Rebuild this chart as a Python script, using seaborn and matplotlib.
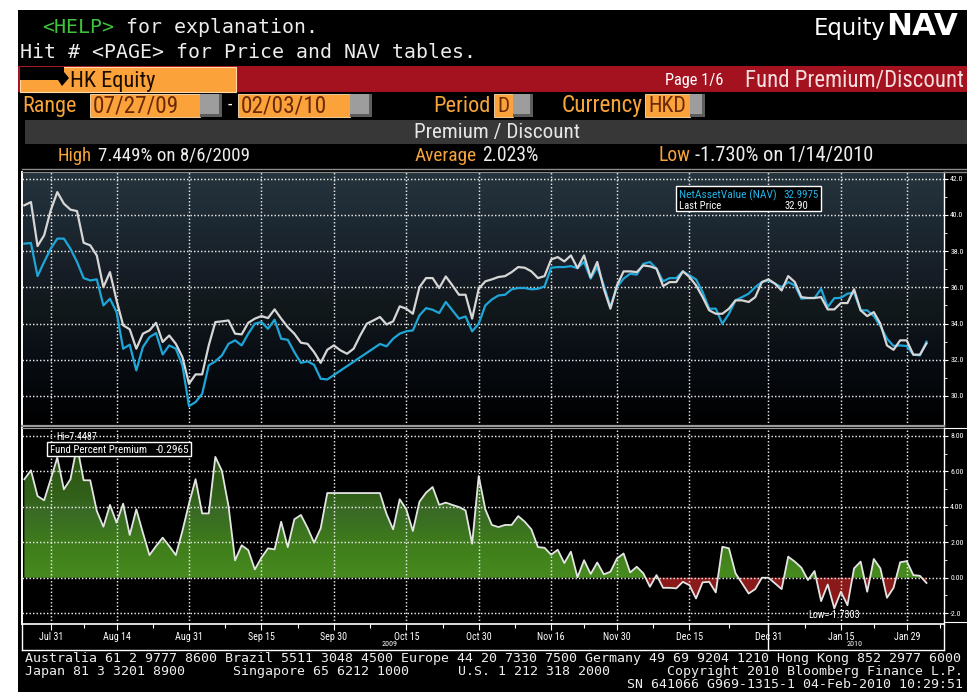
import numpy as np
import pandas as pd
import matplotlib
matplotlib.use("Agg")
import matplotlib.pyplot as plt
import seaborn as sns
from matplotlib.patches import Rectangle, Polygon
from matplotlib.lines import Line2D
from matplotlib.path import Path
from matplotlib.colors import LinearSegmentedColormap
from matplotlib import font_manager

nan = np.nan

# ---------------- data ----------------
start_date = "2009-07-27"
end_date = "2010-02-03"

last_price = [
    40.53, 40.71, 38.28, 38.87, 40.25, 41.26, 40.62, 40.29, 40.21, 38.46,
    38.32, 37.76, 36.01, 36.84, 35.28, 33.90, 33.68, 32.61, 33.44, 33.62,
    34.04, 32.98, 33.34, 32.88, 32.15, 30.67, 31.19, 31.19, 32.79, 34.08,
    34.12, 34.17, 33.44, 33.40, 34.04, 34.27, 34.41, 34.30, 34.78, 34.27,
    33.80, 33.44, 32.94, 32.88, 32.42, 31.83, 32.55, 32.79, 32.52, 32.33,
    32.61, 33.34, 33.99, 34.17, 34.36, 33.95, 34.12, 34.95, 34.82, 34.54,
    36.01, 36.51, 36.51, 35.96, 36.60, 36.11, 35.59, 35.59, 34.27, 35.92,
    36.33, 36.44, 36.57, 36.62, 36.84, 37.12, 37.08, 36.88, 36.51, 36.62,
    37.54, 37.67, 37.43, 37.76, 37.06, 37.76, 36.55, 37.40, 35.92, 34.82,
    36.11, 36.88, 36.88, 36.84, 37.21, 37.16, 37.03, 36.07, 36.29, 36.29,
    36.88, 36.57, 36.11, 35.46, 34.73, 34.54, 34.54, 34.82, 35.28, 35.28,
    35.19, 35.46, 36.29, 36.44, 36.20, 35.83, 36.62, 36.29, 35.46, 35.41,
    35.41, 35.46, 34.78, 34.78, 35.13, 35.13, 35.89, 34.73, 34.41, 34.63,
    33.99, 32.79, 32.55, 33.07, 33.07, 32.28, 32.28, 32.90]

nav = [
    38.41, 38.45, 36.62, 37.40, 38.13, 38.69, 38.69, 38.13, 37.40, 36.51,
    36.38, 36.44, 35.00, 35.37, 34.63, 32.61, 32.83, 31.41, 32.70, 33.25,
    33.47, 32.29, 32.79, 32.61, 31.69, 29.44, 29.66, 30.12, 31.69, 31.91,
    32.24, 32.88, 33.07, 32.79, 33.44, 33.99, 34.08, 33.71, 34.21, 33.16,
    33.10, 32.42, 31.83, 31.91, 31.72, 30.95, 30.91, nan, nan, nan,
    nan, nan, nan, nan, 32.87, 32.74, 33.16, 33.44, 33.57, 33.62,
    34.45, 34.85, 34.76, 34.58, 35.19, 34.73, 34.27, 34.39, 33.57, 33.99,
    35.00, 35.33, 35.55, 35.59, 35.89, 35.96, 35.96, 35.89, 35.92, 36.05,
    37.08, 37.12, 37.12, 37.17, 37.06, 37.40, 36.48, 37.12, 36.11, 34.91,
    36.01, 36.48, 36.75, 36.70, 37.30, 37.40, 37.03, 36.33, 36.51, 36.51,
    36.88, 36.66, 36.44, 35.74, 34.82, 34.82, 33.99, 34.54, 35.28, 35.46,
    35.65, 36.01, 36.29, 36.38, 36.20, 36.01, 36.29, 36.11, 35.37, 35.41,
    35.41, 35.92, 34.91, 35.40, 35.42, 35.65, 35.70, 34.73, 34.73, 34.41,
    33.86, 33.16, 32.76, 32.79, 32.76, 32.28, 32.24, 32.9975]

premium = [
    5.56, 6.06, 4.61, 4.37, 5.56, 6.78, 4.99, 5.56, 7.449, 5.50,
    5.50, 3.77, 2.88, 4.11, 3.11, 4.18, 2.41, 3.86, 2.54, 1.28,
    1.79, 2.26, 1.79, 1.28, 2.64, 4.18, 5.56, 3.63, 3.63, 6.82,
    6.03, 4.05, 0.98, 1.83, 1.56, 0.47, 1.13, 1.66, 1.60, 3.16,
    1.73, 3.30, 3.54, 2.82, 1.98, 2.79, 4.78, nan, nan, nan,
    nan, nan, nan, nan, 4.78, 3.60, 2.73, 4.43, 3.86, 2.64,
    4.29, 4.80, 5.12, 4.11, 4.24, 4.11, 3.99, 3.80, 1.92, 5.74,
    3.86, 2.98, 2.86, 2.98, 2.98, 3.48, 3.16, 2.73, 1.73, 1.69,
    1.30, 1.58, 0.83, 1.47, 0.03, 0.99, 0.21, 0.86, 0.19, 0.34,
    1.09, 1.37, 0.30, 0.62, 0.25, -0.51, 0.15, -0.57, -0.57, -0.60,
    -0.23, -0.42, -1.17, -0.26, -0.23, -0.83, 1.75, 1.66, 0.25, -0.32,
    -0.89, -0.64, 0.00, 0.00, -0.32, -0.64, 1.19, 0.91, 0.57, -0.13,
    0.38, -1.32, -0.38, -1.73, -0.79, -1.55, 0.53, 0.91, -0.79, 1.06,
    0.53, -1.13, -0.57, 0.87, 0.94, 0.15, 0.11, -0.2965]

tick_dates = ["2009-07-31", "2009-08-14", "2009-08-31", "2009-09-15", "2009-09-30",
              "2009-10-15", "2009-10-30", "2009-11-16", "2009-11-30", "2009-12-15",
              "2009-12-31", "2010-01-15", "2010-01-29"]
tick_labels = ["Jul 31", "Aug 14", "Aug 31", "Sep 15", "Sep 30", "Oct 15", "Oct 30",
               "Nov 16", "Nov 30", "Dec 15", "Dec 31", "Jan 15", "Jan 29"]
price_ticks = [30, 32, 34, 36, 38, 40, 42]
price_tick_labels = ["30.0", "32.0", "34.0", "36.0", "38.0", "40.0", "42.0"]
prem_ticks = [-2, 0, 2, 4, 6, 8]
prem_tick_labels = ["-2.0", "0.00", "2.00", "4.00", "6.00", "8.00"]

# ---------------- setup ----------------
dates = pd.bdate_range(start_date, end_date)
idx = np.arange(len(dates))
tick_idx = [dates.get_loc(pd.Timestamp(d)) for d in tick_dates]
minor_idx = [(a + b) / 2 for a, b in zip(tick_idx[:-1], tick_idx[1:])] + [tick_idx[-1] + 5]
year_split = dates.get_loc(pd.Timestamp("2009-12-31"))

df = pd.DataFrame({"idx": idx, "price": last_price, "nav": nav, "prem": premium})

avail = {f.name for f in font_manager.fontManager.ttflist}
NARROW = "DejaVu Sans"
for cand in ["Liberation Sans Narrow", "Roboto Condensed", "Open Sans Condensed", "DejaVu Sans"]:
    if cand in avail:
        NARROW = cand
        break
MONO = "DejaVu Sans Mono"

W, H = 967, 692
fig = plt.figure(figsize=(W / 100, H / 100), dpi=100, facecolor="white")
renderer = fig.canvas.get_renderer()


def prect(x0, y0, x1, y1, z=1, **kw):
    r = Rectangle((x0 / W, 1 - y1 / H), (x1 - x0) / W, (y1 - y0) / H,
                  transform=fig.transFigure, zorder=z, **kw)
    fig.add_artist(r)
    return r


def pline(xs, ys, color="white", lw=1.0, z=2):
    fig.add_artist(Line2D([x / W for x in xs], [1 - y / H for y in ys],
                          transform=fig.transFigure, color=color, lw=lw, zorder=z))


def ptext(x, y, s, width=None, size=10, ha="left", family=None, **kw):
    t = fig.text(x / W, 1 - y / H, s, ha=ha, va="baseline", fontsize=size,
                 family=family or NARROW, zorder=5, **kw)
    if width is not None:
        w = t.get_window_extent(renderer=renderer).width
        if w > 0:
            t.set_fontsize(size * width / w)
    return t


ORANGE = "#f7a43a"
BOXOR = "#fca23a"
WHITE = "#ededed"

# black screen area
prect(18, 10, W, H, z=-5, facecolor="black", edgecolor="none")

# ---------------- header ----------------
cw = 11.95
msize = cw / 0.602 * 0.72
ptext(42, 33, "<HELP>", size=msize, family=MONO, color="#3cc43c")
ptext(42 + 6 * cw, 33, " for explanation.", size=msize, family=MONO, color=WHITE)
ptext(20, 58, "Hit # <PAGE> for Price and NAV tables.", size=msize, family=MONO, color=WHITE)
t_nav = ptext(958, 35, "NAV", width=72, size=16, ha="right", family="DejaVu Sans",
              weight="bold", color="white")
nav_left = t_nav.get_window_extent(renderer=renderer).x0
ptext(nav_left - 0.5, 35, "Equity", width=72, size=16, ha="right", family="DejaVu Sans", color="white")

# red title bar
prect(18, 66, W, 92, facecolor="#a5121f", edgecolor="none")
prect(20, 67, 236, 92, z=1.5, facecolor=BOXOR, edgecolor="#ffd9a8", lw=0.8)
fig.add_artist(Polygon([(20 / W, 1 - 67 / H), (64 / W, 1 - 67 / H), (64 / W, 1 - 72 / H),
                        (69 / W, 1 - 78 / H), (62 / W, 1 - 86 / H), (58 / W, 1 - 80 / H),
                        (20 / W, 1 - 80 / H)], closed=True, transform=fig.transFigure,
                       facecolor="black", edgecolor="none", zorder=2))
ptext(70, 87, "HK Equity", width=85, size=13, color="#1a0d00")
ptext(665, 85, "Page 1/6", width=59, size=9, color="white")
ptext(745, 87, "Fund Premium/Discount", width=218, size=15, color="#f4dede")

# range row
ptext(22, 112, "Range", width=54, size=13, color=ORANGE)
for x0, x1, s in [(90, 200, "07/27/09"), (238, 350, "02/03/10"), (494, 513, "D"), (645, 690, "HKD")]:
    prect(x0, 94, x1, 117, z=1.5, facecolor=BOXOR, edgecolor="#ffe0b0", lw=0.6)
    tw = {"07/27/09": 86, "02/03/10": 86, "D": 12, "HKD": 38}[s]
    ptext(x0 + 3, 112, s, width=tw, size=13, color="#6a2a08")
for x0, x1 in [(200, 222), (350, 372), (513, 533), (690, 705)]:
    prect(x0, 94, x1, 117, z=1.5, facecolor="#9d9d9d", edgecolor="none")
    prect(x1 - 3, 94, x1, 117, z=1.6, facecolor="#5e5e5e", edgecolor="none")
    prect(x0, 114, x1, 117, z=1.6, facecolor="#5e5e5e", edgecolor="none")
ptext(228, 110, "-", size=13, color="white")
ptext(433, 112, "Period", width=57, size=13, color=ORANGE)
ptext(562, 112, "Currency", width=81, size=13, color=ORANGE)

# premium/discount band
prect(25, 120, W, 144, facecolor="#373737", edgecolor="none")
ptext(497, 138, "Premium / Discount", width=165, size=13, ha="center", color="#e6e6e6")

# stats row
ptext(58, 161, "High", width=34, size=12, color=ORANGE)
ptext(98, 161, "7.449% on 8/6/2009", width=151, size=12, color=WHITE)
ptext(415, 161, "Average", width=62, size=12, color=ORANGE)
ptext(482, 161, "2.023%", width=56, size=12, color=WHITE)
ptext(658, 161, "Low", width=32, size=12, color=ORANGE)
ptext(695, 161, "-1.730% on 1/14/2010", width=178, size=12, color=WHITE)
pline([22, W], [169, 169], color="#8c8c8c", lw=1.0)

# ---------------- axes ----------------
XMIN, XMAX = -0.36, 139.66
ax1 = fig.add_axes([22 / W, 1 - 426 / H, (944 - 22) / W, (426 - 172) / H])
ax2 = fig.add_axes([22 / W, 1 - 624 / H, (944 - 22) / W, (624 - 428) / H])
Y1 = (28.34, 42.37)
Y2 = (-2.61, 8.45)

grad = np.linspace(0, 1, 256).reshape(-1, 1)
bg_cmap = LinearSegmentedColormap.from_list(
    "bg", [(0, "#000000"), (0.12, "#030508"), (0.3, "#0a0f16"), (0.45, "#11181a"),
           (0.6, "#171d26"), (0.78, "#1c2831"), (1, "#26343d")])
ax1.set_facecolor("black")
ax1.imshow(grad, aspect="auto", cmap=bg_cmap, origin="lower",
           extent=[XMIN, XMAX, Y1[0], Y1[1]], zorder=0, interpolation="bilinear")

sns.lineplot(data=df.dropna(subset=["nav"]), x="idx", y="nav", ax=ax1,
             color="#1ea6d8", linewidth=1.6, zorder=3)
sns.lineplot(data=df.dropna(subset=["price"]), x="idx", y="price", ax=ax1,
             color="#d6d6d6", linewidth=1.6, zorder=4)

# lower panel
ax2.set_facecolor("black")
d2 = df.dropna(subset=["prem"])
x2 = d2["idx"].to_numpy(dtype=float)
y2 = d2["prem"].to_numpy(dtype=float)
pos = ax2.fill_between(x2, y2, 0, where=y2 >= 0, interpolate=True,
                       facecolor="none", edgecolor="none")
clip = Path.make_compound_path(*pos.get_paths())
green_cmap = LinearSegmentedColormap.from_list(
    "gr", [(0, "#478b1f"), (0.25, "#3f7d1b"), (0.42, "#3a6f22"), (0.5, "#3a6a26"),
           (0.58, "#33621a"), (1, "#28500f")])
gim = ax2.imshow(grad, aspect="auto", cmap=green_cmap, origin="lower",
                 extent=[XMIN, XMAX, 0, 7.6], zorder=1, interpolation="bilinear")
gim.set_clip_path(clip, transform=ax2.transData)
ax2.fill_between(x2, y2, 0, where=y2 <= 0, interpolate=True,
                 facecolor="#8a1a1a", edgecolor="none", zorder=1)
sns.lineplot(data=d2, x="idx", y="prem", ax=ax2, color="#e4e4e4", linewidth=1.3, zorder=3)

for ax, ylim, yt, ytl in [(ax1, Y1, price_ticks, price_tick_labels),
                          (ax2, Y2, prem_ticks, prem_tick_labels)]:
    ax.set_xlim(XMIN, XMAX)
    ax.set_ylim(*ylim)
    ax.set_xlabel("")
    ax.set_ylabel("")
    ax.set_xticks(tick_idx)
    ax.set_xticks(minor_idx, minor=True)
    ax.yaxis.tick_right()
    ax.set_yticks(yt)
    ax.set_yticklabels(ytl)
    ax.set_yticks([v + 1 for v in yt[:-1]], minor=True)
    ax.tick_params(axis="y", which="major", colors="white", labelcolor="white",
                   labelsize=5.6, length=3, width=0.8, pad=1.5, direction="out")
    ax.tick_params(axis="y", which="minor", colors="white", length=2, width=0.6)
    for lab in ax.get_yticklabels():
        lab.set_family(NARROW)
    ax.grid(True, which="major", color="#e6e6e6", linestyle=(0, (1.0, 1.4)), linewidth=1.05)
    ax.grid(False, which="minor")
    ax.spines["left"].set_color("white")
    ax.spines["left"].set_linewidth(1.4)
    ax.spines["right"].set_color("white")
    ax.spines["right"].set_linewidth(1.0)

ax1.tick_params(axis="x", which="both", length=0, labelbottom=False)
ax1.spines["top"].set_color("#8a8a8a")
ax1.spines["bottom"].set_color("#9a9a9a")
ax1.spines["bottom"].set_linewidth(1.6)

ax2.set_xticklabels(tick_labels)
ax2.tick_params(axis="x", which="major", colors="white", labelcolor="white",
                labelsize=7.2, length=4, width=0.8, pad=1.5, direction="out")
ax2.tick_params(axis="x", which="minor", colors="white", length=3, width=0.8, direction="out")
for lab in ax2.get_xticklabels():
    lab.set_family(NARROW)
ax2.spines["top"].set_color("#9a9a9a")
ax2.spines["bottom"].set_color("white")
ax2.spines["bottom"].set_linewidth(1.2)

# legend boxes
prect(676, 186, 821, 211, z=6, facecolor="black", edgecolor="white", lw=1.0)
ptext(679, 198, "NetAssetValue (NAV)", width=98, size=7, color="#22b4e6").set_zorder(7)
ptext(819, 198, "32.9975", width=36, size=7, ha="right", color="#22b4e6").set_zorder(7)
ptext(679, 209, "Last Price", width=42, size=7, color="white").set_zorder(7)
ptext(808, 209, "32.90", width=24, size=7, ha="right", color="white").set_zorder(7)

ptext(56, 440, "Hi=7.4487", width=41, size=5, color="white").set_zorder(7)
prect(47, 442, 191, 456, z=6, facecolor="black", edgecolor="white", lw=1.0)
ptext(50, 453, "Fund Percent Premium", width=98, size=7, color="white").set_zorder(7)
ptext(189, 453, "-0.2965", width=34, size=7, ha="right", color="white").set_zorder(7)
ptext(808, 618, "Low=-1.7303", width=52, size=6, color="white").set_zorder(7)

# x-axis year box
xs_split = 22 + (year_split - XMIN) / (XMAX - XMIN) * (944 - 22)
pline([22, 22], [624, 650])
pline([22, 944], [650, 650])
pline([944, 944], [624, 650])
pline([xs_split, xs_split], [624, 650])
ptext(390, 646, "2009", width=16, size=5, ha="center", color="white")
ptext(855, 646, "2010", width=16, size=5, ha="center", color="white")
# right label frames
pline([944, W], [172, 172], color="#8a8a8a")
pline([944, W], [428, 428], color="white", lw=0.8)
pline([944, W], [622, 622], color="white", lw=0.8)

# ---------------- footer ----------------
fsize = 8.0 / 0.602 * 0.72
ptext(25, 662, "Australia 61 2 9777 8600 Brazil 5511 3048 4500 Europe 44 20 7330 7500 Germany 49 69 9204 1210 Hong Kong 852 2977 6000",
      width=938, size=fsize, family=MONO, color=WHITE)
ptext(25, 675, "Japan 81 3 3201 8900", size=fsize, family=MONO, color=WHITE)
ptext(233, 675, "Singapore 65 6212 1000", size=fsize, family=MONO, color=WHITE)
ptext(458, 675, "U.S. 1 212 318 2000", size=fsize, family=MONO, color=WHITE)
ptext(963, 675, "Copyright 2010 Bloomberg Finance L.P.", size=fsize, ha="right", family=MONO, color=WHITE)
ptext(963, 688, "SN 641066 G969-1315-1 04-Feb-2010 10:29:51", size=fsize, ha="right", family=MONO, color=WHITE)

fig.savefig("out.png", dpi=100, facecolor=fig.get_facecolor())
